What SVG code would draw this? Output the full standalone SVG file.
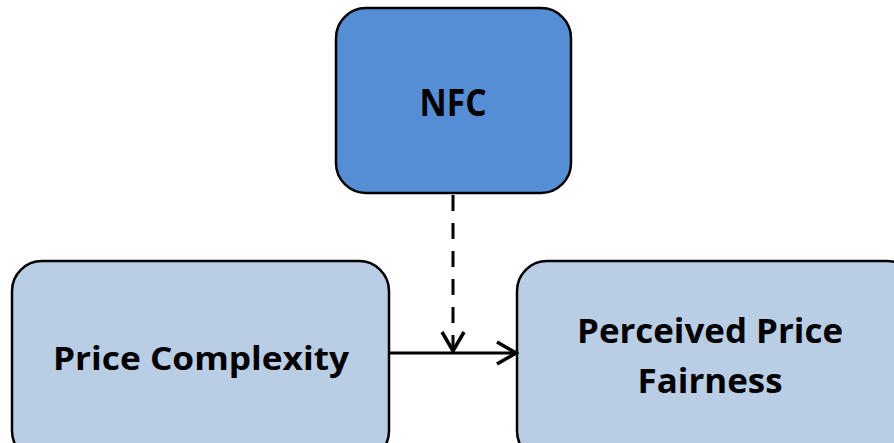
<svg xmlns="http://www.w3.org/2000/svg" width="894" height="443" viewBox="0 0 894 443">
<style>
.box{stroke:#000;stroke-width:2.5}
.dark{fill:#558ED5}
.light{fill:#B9CDE5}
.lbl{font-family:"Open Sans","Liberation Sans",Arial,sans-serif;font-weight:bold;fill:#000;text-anchor:middle}
.con{stroke:#000;stroke-width:3;fill:none}
</style>
<defs>
<marker id="arr" viewBox="0 0 26 28" refX="22" refY="14" markerWidth="26" markerHeight="28" markerUnits="userSpaceOnUse" orient="auto">
<path d="M3,3 L22,14 L3,25" fill="none" stroke="#000" stroke-width="3.5"/>
</marker>
</defs>
<rect width="894" height="443" fill="#fff"/>
<g id="nfc">
<rect class="box dark" x="336" y="8" width="235" height="185" rx="30"/>
<text class="lbl" x="453" y="116" font-size="38" textLength="67" lengthAdjust="spacingAndGlyphs">NFC</text>
</g>
<g id="price-complexity">
<rect class="box light" x="12" y="261" width="377" height="200" rx="30"/>
<text class="lbl" x="201" y="370" font-size="33" textLength="296" lengthAdjust="spacingAndGlyphs">Price Complexity</text>
</g>
<g id="perceived-price-fairness">
<rect class="box light" x="517" y="261" width="400" height="200" rx="30"/>
<text class="lbl" x="710" y="343" font-size="34" textLength="266" lengthAdjust="spacingAndGlyphs">Perceived Price</text>
<text class="lbl" x="710" y="393" font-size="34" textLength="145" lengthAdjust="spacingAndGlyphs">Fairness</text>
</g>
<g id="connectors">
<line class="con" x1="390" y1="353" x2="516" y2="353" marker-end="url(#arr)"/>
<line class="con" x1="453" y1="195" x2="453" y2="351" stroke-dasharray="16 12" marker-end="url(#arr)"/>
</g>
</svg>
